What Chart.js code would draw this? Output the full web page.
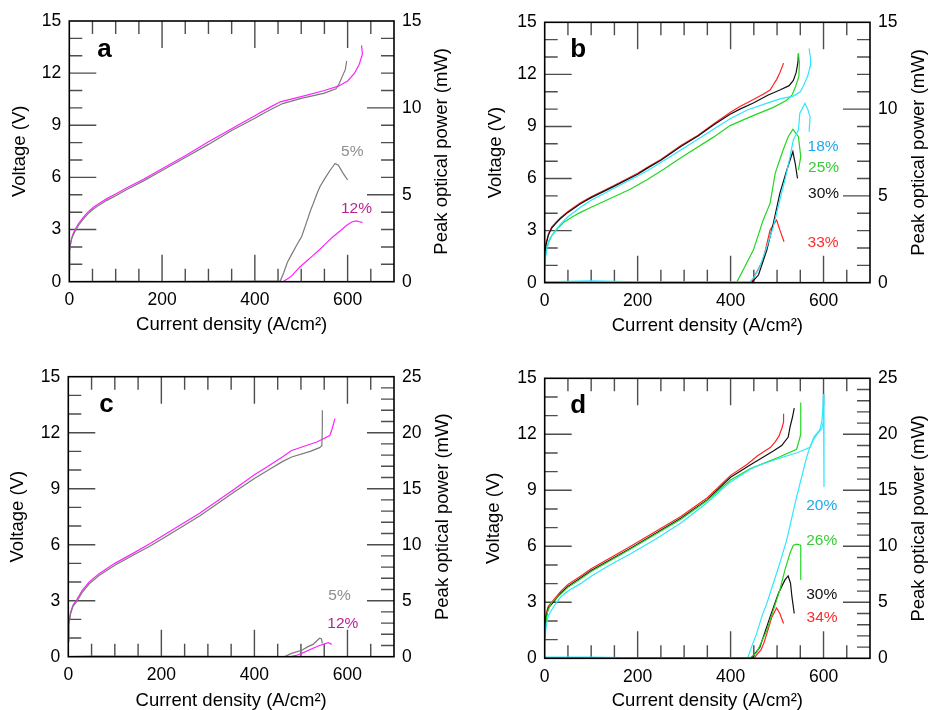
<!DOCTYPE html>
<html>
<head>
<meta charset="utf-8">
<title>LIV curves</title>
<script src="https://cdn.jsdelivr.net/npm/chart.js@4.4.1/dist/chart.umd.min.js"></script>
<style>
  html, body { margin: 0; padding: 0; background: #fff; }
  body { width: 928px; height: 710px; position: relative; overflow: hidden; }
  canvas { position: absolute; }
</style>
</head>
<body>
<canvas id="pa" width="464" height="350" style="left:0;top:0"></canvas>
<canvas id="pb" width="464" height="350" style="left:464px;top:0"></canvas>
<canvas id="pc" width="464" height="355" style="left:0;top:355px"></canvas>
<canvas id="pd" width="464" height="355" style="left:464px;top:355px"></canvas>
<script>
// ---- tick labels ----
const currentTicks = [0, 200, 400, 600];
const voltageTicks = [0, 3, 6, 9, 12, 15];
const powerTicks15 = [0, 5, 10, 15];
const powerTicks25 = [0, 5, 10, 15, 20, 25];

// ---- panel a : [current density A/cm2, value] ----
const aVolt5 = [[0,0.7],[1,1.8],[3,2.2],[5,2.45],[8,2.65],[12,2.87],[20,3.25],[30,3.6],[40,3.9],[52,4.18],[65,4.42],[81,4.68],[100,4.95],[124,5.3],[160,5.8],[200,6.4],[250,7.15],[300,7.9],[350,8.7],[400,9.4],[430,9.85],[460,10.25],[500,10.55],[550,10.85],[575,11.1],[582,11.4],[590,11.9],[595,12.2],[598,12.7]];
const aVolt12 = [[0,1.7],[2,2.1],[5,2.5],[8,2.75],[12,2.97],[20,3.35],[30,3.7],[40,4.0],[52,4.28],[65,4.52],[81,4.78],[100,5.05],[124,5.4],[160,5.9],[200,6.5],[250,7.25],[300,8.05],[350,8.8],[400,9.55],[430,10.0],[455,10.35],[500,10.65],[550,11.0],[580,11.25],[600,11.55],[615,12.0],[625,12.5],[632,13.1],[630,13.6]];
const aPow5 = [[0,0],[100,0.02],[200,0],[300,0.02],[400,0.03],[455,0.05],[462,0.5],[470,1.1],[480,1.6],[490,2.1],[501,2.6],[510,3.3],[520,4.1],[526,4.5],[533,5.0],[540,5.45],[550,5.9],[562,6.4],[573,6.8],[580,6.7],[590,6.25],[600,5.85]];
const aPow12 = [[0,0],[460,0],[470,0.15],[480,0.35],[497,0.85],[510,1.15],[525,1.5],[540,1.85],[555,2.25],[569,2.6],[585,2.95],[598,3.25],[610,3.45],[619,3.5],[626,3.45],[632,3.4]];

// ---- panel b ----
const bVolt18 = [[0,0.7],[2,1.5],[5,2.0],[10,2.5],[20,2.9],[35,3.4],[50,3.8],[77,4.35],[100,4.75],[150,5.45],[221,6.45],[293,7.65],[364,8.85],[399,9.45],[436,9.95],[485,10.4],[508,10.6],[535,10.75],[550,11.0],[556,11.3],[566,11.9],[571,12.45],[572,12.9],[569,13.5]];
const bVolt25 = [[0,1.2],[3,1.8],[8,2.3],[15,2.7],[25,3.05],[42,3.5],[60,3.8],[77,4.05],[100,4.35],[149,4.95],[185,5.4],[221,5.95],[257,6.55],[293,7.2],[364,8.4],[399,9.05],[442,9.55],[492,10.1],[520,10.5],[532,10.8],[540,11.3],[547,11.9],[548,12.7],[546,13.2]];
const bVolt30 = [[0,1.6],[3,2.2],[8,2.75],[15,3.15],[25,3.45],[34,3.7],[50,4.05],[77,4.55],[100,4.9],[149,5.55],[200,6.25],[221,6.6],[250,7.05],[293,7.85],[330,8.45],[364,9.1],[399,9.7],[420,10.0],[449,10.35],[480,10.8],[506,11.1],[526,11.35],[535,11.65],[541,12.1],[545,12.7],[546,13.2]];
const bVolt33 = [[0,1.8],[3,2.3],[8,2.8],[15,3.2],[25,3.5],[34,3.75],[50,4.1],[77,4.6],[100,4.95],[149,5.6],[200,6.3],[221,6.65],[250,7.1],[293,7.9],[330,8.5],[364,9.15],[399,9.8],[420,10.15],[442,10.45],[470,10.85],[485,11.1],[492,11.4],[499,11.7],[506,12.1],[514,12.65]];
const bPow18 = [[0,0.05],[100,0.1],[200,0.05],[300,0.05],[400,0.05],[441,0.05],[449,0.25],[463,0.92],[478,2.07],[492,3.23],[506,4.76],[517,5.92],[528,7.26],[535,8.22],[546,8.8],[549,9.76],[560,10.33],[566,10.0],[571,9.56],[569,8.7]];
const bPow25 = [[0,0.05],[100,0.05],[300,0.02],[413,0.02],[427,0.73],[449,1.88],[470,3.6],[485,4.57],[496,6.3],[513,7.64],[524,8.41],[534,8.83],[546,8.41],[551,7.26],[546,6.49]];
const bPow30 = [[0,0],[445,0],[460,0.44],[478,1.88],[492,3.42],[506,5.15],[521,6.49],[534,7.55],[539,6.88],[544,6.01]];
const bPow33 = [[0,0],[445,0],[449,0.25],[470,1.31],[485,3.04],[499,3.61],[506,3.04],[515,2.36]];

// ---- panel c ----
const cVolt5 = [[0,0.8],[1,1.7],[5,2.3],[10,2.7],[18,2.95],[30,3.45],[45,3.9],[66,4.35],[100,4.9],[140,5.45],[175,5.92],[211,6.45],[283,7.55],[355,8.8],[400,9.55],[430,10.0],[460,10.45],[480,10.7],[520,11.0],[540,11.2],[545,11.3],[546,12.3],[546,13.2]];
const cVolt12 = [[0,0.9],[1,1.8],[5,2.4],[10,2.75],[18,3.05],[30,3.55],[45,4.0],[66,4.45],[100,5.0],[140,5.55],[175,6.05],[211,6.6],[283,7.7],[355,8.95],[400,9.75],[426,10.15],[460,10.7],[480,11.05],[534,11.5],[562,11.85],[567,12.2],[573,12.75]];
const cPow5 = [[0,0],[200,0],[300,0.02],[464,0],[480,0.3],[503,0.6],[515,0.9],[526,1.1],[540,1.65],[544,1.6],[546,1.2]];
const cPow12 = [[0,0],[50,0.05],[478,0],[493,0.15],[510,0.45],[526,0.75],[540,1.0],[559,1.25],[566,1.1]];

// ---- panel d ----
const dVolt20 = [[0,0.9],[3,1.7],[8,2.3],[20,2.8],[35,3.3],[50,3.6],[77,4.0],[100,4.4],[140,5.0],[185,5.6],[240,6.4],[293,7.25],[350,8.35],[400,9.45],[450,10.25],[515,10.8],[542,11.0],[561,11.2],[571,11.3],[578,11.7],[586,12.0],[596,12.3],[600,12.7]];
const dVolt26 = [[0,1.0],[2,1.8],[6,2.5],[15,3.0],[35,3.45],[50,3.8],[77,4.25],[100,4.65],[185,5.85],[293,7.45],[350,8.45],[400,9.55],[442,10.15],[506,10.8],[542,11.2],[549,11.8],[551,12.05],[551,13.7]];
const dVolt30 = [[0,1.7],[3,2.2],[8,2.7],[20,3.05],[35,3.5],[50,3.85],[77,4.3],[100,4.7],[185,5.9],[293,7.5],[350,8.5],[400,9.7],[442,10.35],[492,11.1],[510,11.4],[524,11.85],[528,12.4],[533,12.9],[537,13.4]];
const dVolt34 = [[0,1.9],[3,2.4],[8,2.8],[20,3.15],[35,3.6],[50,3.95],[77,4.4],[100,4.8],[185,6.0],[293,7.6],[350,8.6],[400,9.8],[436,10.4],[458,10.85],[486,11.3],[496,11.6],[504,11.9],[510,12.3],[514,12.65],[514,13.1]];
const dPow20 = [[0,0.1],[100,0.1],[200,0.05],[300,0.05],[437,0.05],[445,1.0],[456,2.2],[467,3.7],[478,4.9],[492,6.7],[506,8.5],[521,10.6],[532,12.6],[542,14.4],[553,16.2],[564,18.0],[571,18.9],[580,19.8],[592,20.4],[597,21.3],[600,23.6],[601,15.3]];
const dPow26 = [[0,0.05],[442,0.05],[456,0.5],[478,2.5],[492,4.3],[506,6.1],[517,7.9],[528,9.4],[535,10.1],[542,10.2],[551,10.1],[551,7.0]];
const dPow30 = [[0,0],[445,0],[463,1.0],[485,3.7],[503,5.8],[517,7.0],[524,7.35],[529,6.7],[532,5.5],[537,4.0]];
const dPow34 = [[0,0],[450,0],[466,0.8],[472,1.4],[478,2.2],[489,3.7],[499,4.5],[506,4.0],[514,3.1]];

// ---- colours ----
const COL = {
  gray:    { line: '#7a7a7a', text: '#8e8e8e' },
  magenta: { line: '#ff22ff', text: '#b8248f' },
  cyan:    { line: '#2ee6ff', text: '#1eaaea' },
  green:   { line: '#22d622', text: '#38cc38' },
  black:   { line: '#111111', text: '#111111' },
  red:     { line: '#ff2424', text: '#ff2a2a' }
};

const FONT = '"Liberation Sans", Arial, Helvetica, sans-serif';

// panel layout and series
const panels = [
  { id: 'pa', letter: 'a', letterDx: 28, letterDy: 36, area: [69.3, 21, 394, 281.7],
    powerMax: 15, powerTicks: powerTicks15,
    leftTitleX: 20, rightTitleX: 441.7, bottomTitleY: 325,
    series: [
      { tag: '5%',  c: COL.gray,    volt: aVolt5,  pow: aPow5,  at: [610, 7.48] },
      { tag: '12%', c: COL.magenta, volt: aVolt12, pow: aPow12, at: [619, 4.22] }
    ] },
  { id: 'pb', letter: 'b', letterDx: 25.5, letterDy: 35, area: [80.7, 22.3, 406, 282.7],
    powerMax: 15, powerTicks: powerTicks15,
    leftTitleX: 31.7, rightTitleX: 455, bottomTitleY: 325.7,
    series: [
      { tag: '18%', c: COL.cyan,  volt: bVolt18, pow: bPow18, at: [599, 7.83] },
      { tag: '25%', c: COL.green, volt: bVolt25, pow: bPow25, at: [600, 6.62] },
      { tag: '30%', c: COL.black, volt: bVolt30, pow: bPow30, at: [600, 5.15] },
      { tag: '33%', c: COL.red,   volt: bVolt33, pow: bPow33, at: [599, 2.33] }
    ] },
  { id: 'pc', letter: 'c', letterDx: 31, letterDy: 35, area: [68.3, 21.7, 394, 301.7],
    powerMax: 25, powerTicks: powerTicks25,
    leftTitleX: 18.3, rightTitleX: 443.3, bottomTitleY: 345.5,
    series: [
      { tag: '5%',  c: COL.gray,    volt: cVolt5,  pow: cPow5,  at: [583, 3.25] },
      { tag: '12%', c: COL.magenta, volt: cVolt12, pow: cPow12, at: [590, 1.79] }
    ] },
  { id: 'pd', letter: 'd', letterDx: 25.5, letterDy: 34.5, area: [80.7, 23.3, 406, 303.3],
    powerMax: 25, powerTicks: powerTicks25,
    leftTitleX: 30, rightTitleX: 455, bottomTitleY: 345.5,
    series: [
      { tag: '20%', c: COL.cyan,  volt: dVolt20, pow: dPow20, at: [596, 8.18] },
      { tag: '26%', c: COL.green, volt: dVolt26, pow: dPow26, at: [596, 6.28] },
      { tag: '30%', c: COL.black, volt: dVolt30, pow: dPow30, at: [596, 3.39] },
      { tag: '34%', c: COL.red,   volt: dVolt34, pow: dPow34, at: [597, 2.18] }
    ] }
];

const toXY = arr => arr.map(([x, y]) => ({ x, y }));

// inward tick marks on all four sides, frame, tags, letter and axis titles
const tickPlugin = {
  id: 'inwardTicks',
  beforeDatasetsDraw(chart, args, opts) {
    const { ctx, chartArea: a, scales } = chart;
    const xs = scales.x, yl = scales.y, yr = scales.y1;
    ctx.save();
    ctx.strokeStyle = '#4d4d4d';
    ctx.lineWidth = 1.4;
    ctx.beginPath();
    for (let v = 50; v < 700; v += 50) {
      const px = xs.getPixelForValue(v);
      const len = v % 200 === 0 ? 27 : 13;
      ctx.moveTo(px, a.bottom); ctx.lineTo(px, a.bottom - len);
      ctx.moveTo(px, a.top); ctx.lineTo(px, a.top + len);
    }
    for (let v = 1; v < 15; v++) {
      const py = yl.getPixelForValue(v);
      const len = v % 3 === 0 ? 27 : 13;
      ctx.moveTo(a.left, py); ctx.lineTo(a.left + len, py);
    }
    for (let v = 1; v < opts.powerMax; v++) {
      const py = yr.getPixelForValue(v);
      const len = v % 5 === 0 ? 27 : 13;
      ctx.moveTo(a.right, py); ctx.lineTo(a.right - len, py);
    }
    ctx.stroke();
    ctx.restore();
  },
  afterDatasetsDraw(chart, args, opts) {
    const { ctx, chartArea: a, scales } = chart;
    const xs = scales.x, yl = scales.y;
    ctx.save();
    ctx.strokeStyle = '#000';
    ctx.lineWidth = 1.6;
    ctx.strokeRect(a.left, a.top, a.right - a.left, a.bottom - a.top);
    ctx.font = '15.5px ' + FONT;
    ctx.textAlign = 'center';
    ctx.textBaseline = 'middle';
    opts.series.forEach(s => {
      ctx.fillStyle = s.c.text;
      ctx.fillText(s.tag, xs.getPixelForValue(s.at[0]), yl.getPixelForValue(s.at[1]));
    });
    ctx.fillStyle = '#000';
    ctx.font = 'bold 26px ' + FONT;
    ctx.textAlign = 'left';
    ctx.textBaseline = 'alphabetic';
    ctx.fillText(opts.letter, a.left + opts.letterDx, a.top + opts.letterDy);
    const cy = (a.top + a.bottom) / 2, cx = (a.left + a.right) / 2;
    ctx.font = '18.5px ' + FONT;
    ctx.textAlign = 'center';
    ctx.textBaseline = 'middle';
    ctx.fillText('Current density (A/cm²)', cx, opts.bottomTitleY);
    ctx.save();
    ctx.translate(opts.leftTitleX, cy);
    ctx.rotate(-Math.PI / 2);
    ctx.fillText('Voltage (V)', 0, 0);
    ctx.restore();
    ctx.save();
    ctx.translate(opts.rightTitleX, cy);
    ctx.rotate(-Math.PI / 2);
    ctx.fillText('Peak optical power (mW)', 0, 0);
    ctx.restore();
    ctx.restore();
  }
};

function fixedTicks(values) {
  return scale => { scale.ticks = values.map(v => ({ value: v })); };
}

panels.forEach(p => {
  const canvas = document.getElementById(p.id);
  const W = canvas.width, H = canvas.height;
  const [L, T, R, B] = p.area;
  const datasets = [];
  p.series.forEach(s => {
    datasets.push({ data: toXY(s.volt), yAxisID: 'y', borderColor: s.c.line });
    datasets.push({ data: toXY(s.pow), yAxisID: 'y1', borderColor: s.c.line });
  });
  datasets.forEach(d => Object.assign(d, {
    showLine: true, pointRadius: 0, borderWidth: 1.2, tension: 0, fill: false
  }));
  const tickFont = { family: FONT, size: 17.5 };
  new Chart(canvas, {
    type: 'scatter',
    data: { datasets },
    plugins: [tickPlugin],
    options: {
      responsive: false,
      animation: false,
      devicePixelRatio: 1,
      layout: { padding: { top: T, left: 0, right: 0, bottom: 0 } },
      plugins: {
        legend: { display: false },
        tooltip: { enabled: false },
        inwardTicks: p
      },
      scales: {
        x: {
          type: 'linear', position: 'bottom', min: 0, max: 700,
          grid: { display: false, drawTicks: false }, border: { display: false },
          ticks: { font: tickFont, color: '#000', padding: 8, maxRotation: 0, autoSkip: false },
          afterBuildTicks: fixedTicks(currentTicks),
          afterFit: s => { s.height = H - B; }
        },
        y: {
          type: 'linear', position: 'left', min: 0, max: 15,
          grid: { display: false, drawTicks: false }, border: { display: false },
          ticks: { font: tickFont, color: '#000', padding: 8, autoSkip: false },
          afterBuildTicks: fixedTicks(voltageTicks),
          afterFit: s => { s.width = L; }
        },
        y1: {
          type: 'linear', position: 'right', min: 0, max: p.powerMax,
          grid: { display: false, drawTicks: false }, border: { display: false },
          ticks: { font: tickFont, color: '#000', padding: 8, autoSkip: false },
          afterBuildTicks: fixedTicks(p.powerTicks),
          afterFit: s => { s.width = W - R; }
        }
      }
    }
  });
});
</script>
</body>
</html>
